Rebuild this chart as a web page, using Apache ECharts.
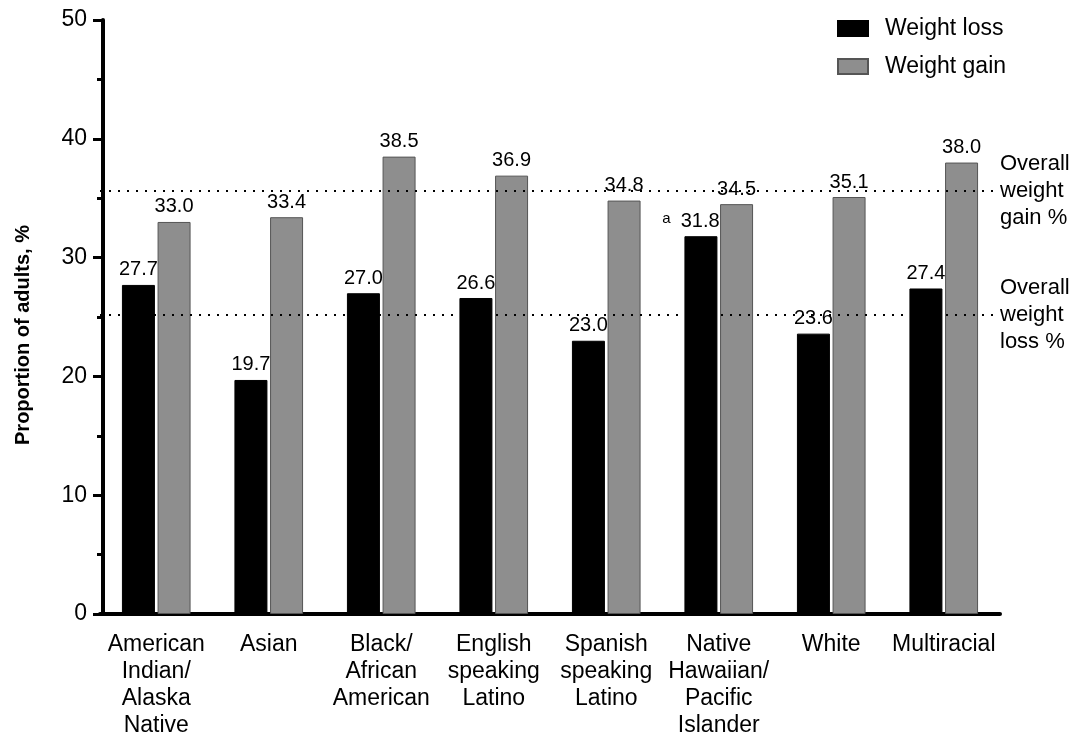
<!DOCTYPE html>
<html>
<head>
<meta charset="utf-8">
<title>Weight change by race and ethnicity</title>
<script src="https://cdn.jsdelivr.net/npm/echarts@6/dist/echarts.min.js"></script>
<style>
  html, body { margin: 0; padding: 0; background: #fff; }
  #chart { width: 1073px; height: 734px; }
</style>
</head>
<body>
<div id="chart"></div>
<script>
// Groups shown along the x axis
const categories = [
  'American\nIndian/\nAlaska\nNative',
  'Asian',
  'Black/\nAfrican\nAmerican',
  'English\nspeaking\nLatino',
  'Spanish\nspeaking\nLatino',
  'Native\nHawaiian/\nPacific\nIslander',
  'White',
  'Multiracial'
];

// Proportion of adults (%) reporting each change
const weightLoss = [27.7, 19.7, 27.0, 26.6, 23.0, 31.8, 23.6, 27.4];
const weightGain = [33.0, 33.4, 38.5, 36.9, 34.8, 34.5, 35.1, 38.0];

// Overall reference levels
const overallGain = 35.6;
const overallLoss = 25.2;

// Footnote marker attached to one group's weight-loss value
const footnoteIndex = 5;
const footnoteMark = 'a';

const yTicks = [0, 10, 20, 30, 40, 50];

const FONT = '"Liberation Sans", Arial, Helvetica, sans-serif';
const NARROW = '"Liberation Sans Narrow", "Arial Narrow", "Liberation Sans", Arial, sans-serif';

const chart = echarts.init(document.getElementById('chart'), null, { renderer: 'canvas' });

const valueLabel = {
  show: true,
  position: 'top',
  distance: 5,
  color: '#000',
  fontFamily: NARROW,
  fontSize: 20,
  formatter: p => p.value.toFixed(1)
};

const lossData = weightLoss.map((v, i) => {
  if (i !== footnoteIndex) return v;
  return {
    value: v,
    label: {
      formatter: p => '{sup|' + footnoteMark + '}{val|' + p.value.toFixed(1) + '}',
      offset: [-10, 0],
      rich: {
        sup: {
          fontFamily: FONT,
          fontSize: 15,
          color: '#000',
          verticalAlign: 'top',
          padding: [0, 10, 0, 0]
        },
        val: {
          fontFamily: NARROW,
          fontSize: 20,
          color: '#000'
        }
      }
    }
  };
});

const refLine = (value, text) => ({
  silent: true,
  symbol: 'none',
  lineStyle: { type: [2, 7], color: '#000', width: 2 },
  label: {
    show: true,
    position: 'end',
    distance: 0,
    formatter: text,
    fontFamily: FONT,
    fontSize: 22,
    lineHeight: 27,
    color: '#000'
  },
  data: [{ yAxis: value }]
});

const option = {
  backgroundColor: '#fff',
  animation: false,
  textStyle: { fontFamily: FONT },
  grid: {
    left: 100, right: 73, top: 20, bottom: 120,
    containLabel: false,
    outerBoundsMode: 'none'
  },
  legend: {
    orient: 'vertical',
    left: 832,
    top: 12,
    itemWidth: 30,
    itemHeight: 15,
    itemGap: 15,
    icon: 'rect',
    textStyle: {
      fontFamily: FONT,
      fontSize: 23,
      color: '#000',
      padding: [0, 0, 0, 12]
    },
    data: ['Weight loss', 'Weight gain']
  },
  xAxis: {
    type: 'category',
    data: categories,
    axisLine: { lineStyle: { color: '#000', width: 4 } },
    axisTick: { show: false },
    axisLabel: {
      interval: 0,
      margin: 17,
      color: '#000',
      fontFamily: FONT,
      fontSize: 23,
      lineHeight: 27,
      align: 'center'
    }
  },
  yAxis: {
    type: 'value',
    min: yTicks[0],
    max: yTicks[yTicks.length - 1],
    interval: 10,
    offset: -3,
    name: 'Proportion of adults, %',
    nameLocation: 'middle',
    nameGap: 70,
    nameTextStyle: {
      fontFamily: FONT,
      fontSize: 20,
      fontWeight: 'bold',
      color: '#000',
      padding: [0, 36, 0, 0]
    },
    axisLine: { show: true, lineStyle: { color: '#000', width: 4 } },
    axisTick: { show: true, length: 10, lineStyle: { color: '#000', width: 3 } },
    minorTick: { show: true, splitNumber: 2, length: 6, lineStyle: { color: '#000', width: 3 } },
    splitLine: { show: false },
    axisLabel: {
      margin: 16,
      color: '#000',
      fontFamily: FONT,
      fontSize: 23
    }
  },
  series: [
    {
      name: 'Weight loss',
      type: 'bar',
      data: lossData,
      barWidth: 33,
      barGap: '8%',
      itemStyle: { color: '#000', borderColor: '#000', borderWidth: 1 },
      label: valueLabel,
      markLine: refLine(overallLoss, 'Overall\nweight\nloss %')
    },
    {
      name: 'Weight gain',
      type: 'bar',
      data: weightGain,
      barWidth: 33,
      itemStyle: { color: '#8e8e8e', borderColor: '#555', borderWidth: 1 },
      label: valueLabel,
      markLine: refLine(overallGain, 'Overall\nweight\ngain %')
    }
  ]
};

chart.setOption(option);
</script>
</body>
</html>
